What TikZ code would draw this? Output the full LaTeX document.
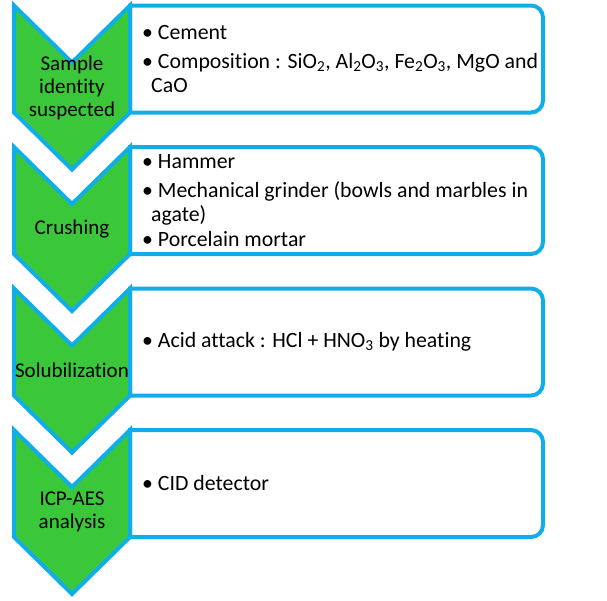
\documentclass[tikz,border=0pt]{standalone}
\usepackage{fontspec}
\setmainfont{Carlito}[Ligatures=NoCommon]
\definecolor{stepblue}{HTML}{10AEE8}
\definecolor{stepgreen}{HTML}{3AC83A}
\tikzset{
  chevron/.style={draw=stepblue, fill=stepgreen, line width=4pt},
  infobox/.style={draw=stepblue, fill=white, line width=4pt},
  steplabel/.style={align=center, inner sep=0pt, font=\fontsize{21}{23}\selectfont},
  itemtext/.style={anchor=west, align=left, inner sep=0pt, font=\fontsize{21.8}{24}\selectfont},
}
\begin{document}
\begin{tikzpicture}[x=1pt,y=1pt]
  \useasboundingbox (0,-600) rectangle (607,0);
  % boxes on the right
  \draw[infobox] (130,-5.5) -- (531,-5.5) arc[start angle=90,end angle=0,radius=12]
    -- (543,-100.5) arc[start angle=0,end angle=-90,radius=12] -- (130,-112.5) -- cycle;
  \draw[infobox] (130,-147) -- (531,-147) arc[start angle=90,end angle=0,radius=12]
    -- (543,-242) arc[start angle=0,end angle=-90,radius=12] -- (130,-254) -- cycle;
  \draw[infobox] (130,-288.5) -- (531,-288.5) arc[start angle=90,end angle=0,radius=12]
    -- (543,-383.5) arc[start angle=0,end angle=-90,radius=12] -- (130,-395.5) -- cycle;
  \draw[infobox] (130,-430) -- (531,-430) arc[start angle=90,end angle=0,radius=12]
    -- (543,-525) arc[start angle=0,end angle=-90,radius=12] -- (130,-537) -- cycle;
  % chevrons
  \draw[chevron] (14,-5.5) -- (72,-62.5) -- (130,-5.5) -- (130,-112.5)
    -- (72,-169.5) -- (14,-112.5) -- cycle;
  \draw[chevron] (14,-147) -- (72,-204) -- (130,-147) -- (130,-254)
    -- (72,-311) -- (14,-254) -- cycle;
  \draw[chevron] (14,-288.5) -- (72,-345.5) -- (130,-288.5) -- (130,-395.5)
    -- (72,-452.5) -- (14,-395.5) -- cycle;
  \draw[chevron] (14,-430) -- (72,-487) -- (130,-430) -- (130,-537)
    -- (72,-594) -- (14,-537) -- cycle;
  % step labels
  \node[steplabel] (sample) at (72,-88) {Sample\\identity\\suspected};
  \node[steplabel] (crushing) at (72,-229.5) {Crushing};
  \node[steplabel] (solub) at (72,-370.5) {Solubilization};
  \node[steplabel] (icp) at (72,-512) {ICP-AES\\analysis};
  % item texts
  \node[itemtext] (sampletxt) at (142,-59)
    {\textbullet\ Cement\\[5pt]
     \textbullet\ Composition : SiO\textsubscript{2}, Al\textsubscript{2}O\textsubscript{3}, Fe\textsubscript{2}O\textsubscript{3}, MgO and\\
     \hspace{9pt}CaO};
  \node[itemtext] (crushingtxt) at (142,-200.5)
    {\textbullet\ Hammer\\[5pt]
     \textbullet\ Mechanical grinder (bowls and marbles in\\
     \hspace{9pt}agate)\\[1pt]
     \textbullet\ Porcelain mortar};
  \node[itemtext] (solubtxt) at (142,-342)
    {\textbullet\ Acid attack : HCl + HNO\textsubscript{3} by heating};
  \node[itemtext] (icptxt) at (142,-483.5)
    {\textbullet\ CID detector};
\end{tikzpicture}
\end{document}
